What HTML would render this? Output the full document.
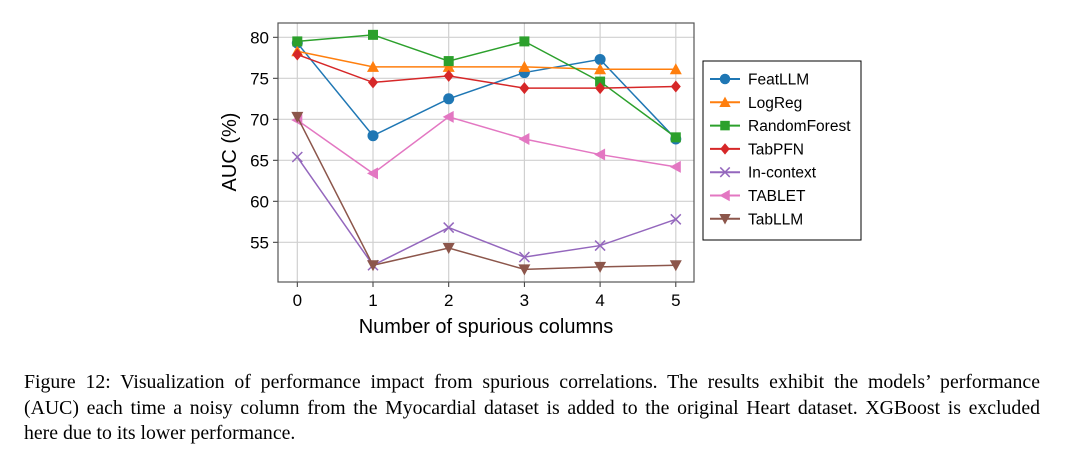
<!DOCTYPE html>
<html><head><meta charset="utf-8"><style>
body{margin:0;background:#fff;width:1091px;height:456px;overflow:hidden}
svg{position:absolute;left:0;top:0}
.cap{position:absolute;left:24px;top:370px;width:1016px;font:19.8px/25.5px "Liberation Serif",serif;color:#000}
.cap div{text-align:justify;text-align-last:justify;white-space:nowrap}
.cap div.last{text-align-last:left}
</style></head><body>
<svg id="chart" width="1091" height="360" font-family="Liberation Sans, sans-serif"></svg>
<div class="cap"><div>Figure 12: Visualization of performance impact from spurious correlations. The results exhibit the models’ performance</div><div>(AUC) each time a noisy column from the Myocardial dataset is added to the original Heart dataset. XGBoost is excluded</div><div class="last">here due to its lower performance.</div></div>
<script>
const categories=[0,1,2,3,4,5];
const yTicks=[55,60,65,70,75,80];
const seriesNames=["FeatLLM","LogReg","RandomForest","TabPFN","In-context","TABLET","TabLLM"];
const featllm=[79.3,68.0,72.5,75.7,77.3,67.6];
const logreg=[78.3,76.4,76.4,76.4,76.1,76.1];
const randomforest=[79.5,80.3,77.1,79.5,74.6,67.8];
const tabpfn=[77.9,74.5,75.3,73.8,73.8,74.0];
const incontext=[65.4,52.2,56.8,53.2,54.6,57.8];
const tablet=[69.9,63.4,70.3,67.6,65.7,64.2];
const tabllm=[70.3,52.2,54.3,51.7,52.0,52.2];
const allSeries=[featllm,logreg,randomforest,tabpfn,incontext,tablet,tabllm];
const colors=["#1f77b4","#ff7f0e","#2ca02c","#d62728","#9467bd","#e377c2","#8c564b"];
const markers=["o","^","s","D","x","<","v"];
const NS="http://www.w3.org/2000/svg";
const svg=document.getElementById('chart');
const L=278,T=23,R=694,B=282;
const xs=v=>297.3+v*75.7;
const ys=v=>37.3+(80-v)*8.2;
function mk(tag,at,parent){const e=document.createElementNS(NS,tag);for(const k in at)e.setAttribute(k,at[k]);(parent||svg).appendChild(e);return e;}
categories.forEach(c=>{const g=mk('line',{x1:xs(c),x2:xs(c),y1:T,y2:B,stroke:'#d0d0d0','stroke-width':1.2});


mk('line',{x1:xs(c),x2:xs(c),y1:B,y2:B+5,stroke:'#333'});
const t=mk('text',{x:xs(c),y:B+24,'text-anchor':'middle','font-size':17});t.textContent=c;

});
yTicks.forEach(v=>{const g=mk('line',{x1:L,x2:R,y1:ys(v),y2:ys(v),stroke:'#d0d0d0','stroke-width':1.2});


mk('line',{x1:L-5,x2:L,y1:ys(v),y2:ys(v),stroke:'#333'});
const t=mk('text',{x:L-9,y:ys(v)+6,'text-anchor':'end','font-size':17});t.textContent=v;

});
const frame=mk('rect',{x:L,y:T,width:R-L,height:B-T,fill:'none',stroke:'#555','stroke-width':1.2});


function marker(m,x,y,c,g,s){s=s||1;
 if(m=='o')mk('circle',{cx:x,cy:y,r:5.5*s,fill:c},g);
 else if(m=='s')mk('rect',{x:x-5*s,y:y-5*s,width:10*s,height:10*s,fill:c},g);
 else if(m=='^')mk('polygon',{points:`${x},${y-6*s} ${x-6*s},${y+5*s} ${x+6*s},${y+5*s}`,fill:c},g);
 else if(m=='v')mk('polygon',{points:`${x},${y+6*s} ${x-6*s},${y-5*s} ${x+6*s},${y-5*s}`,fill:c},g);
 else if(m=='<')mk('polygon',{points:`${x-6*s},${y} ${x+5*s},${y-6*s} ${x+5*s},${y+6*s}`,fill:c},g);
 else if(m=='D')mk('polygon',{points:`${x},${y-6*s} ${x+5*s},${y} ${x},${y+6*s} ${x-5*s},${y}`,fill:c},g);
 else if(m=='x'){mk('line',{x1:x-5*s,y1:y-5*s,x2:x+5*s,y2:y+5*s,stroke:c,'stroke-width':1.5},g);mk('line',{x1:x-5*s,y1:y+5*s,x2:x+5*s,y2:y-5*s,stroke:c,'stroke-width':1.5},g);}
}
allSeries.forEach((d,i)=>{const g=mk('g',{});


mk('polyline',{points:d.map((v,j)=>xs(categories[j])+','+ys(v)).join(' '),fill:'none',stroke:colors[i],'stroke-width':1.5},g);
d.forEach((v,j)=>marker(markers[i],xs(categories[j]),ys(v),colors[i],g));});
const yl=mk('text',{x:0,y:0,transform:'translate(236,152) rotate(-90)','text-anchor':'middle','font-size':20});yl.textContent='AUC (%)';


const xl=mk('text',{x:486,y:333,'text-anchor':'middle','font-size':20});xl.textContent='Number of spurious columns';


const lg=mk('g',{});


mk('rect',{x:703,y:61,width:158,height:179,fill:'#fff',stroke:'#000','stroke-width':1},lg);
seriesNames.forEach((n,i)=>{const y=79+i*23.3;const e=mk('g',{},lg);


mk('line',{x1:710,x2:740,y1:y,y2:y,stroke:colors[i],'stroke-width':2},e);
marker(markers[i],725,y,colors[i],e,0.95);
const t=mk('text',{x:748,y:y+5.5,'font-size':15.5},e);t.textContent=n;});
</script>
</body></html>
